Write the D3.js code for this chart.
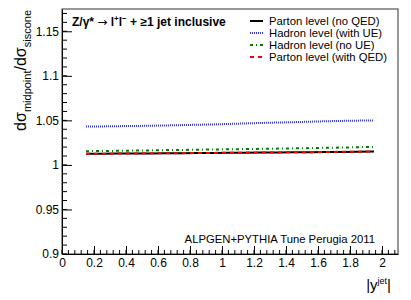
<!DOCTYPE html>
<html>
<head>
<meta charset="utf-8">
<script src="https://cdn.jsdelivr.net/npm/d3@7"></script>
<style>
  body { margin: 0; background: #fff; }
  svg { font-family: "Liberation Sans", Arial, sans-serif; }
</style>
</head>
<body>
<div id="chart"></div>
<script>
// bin centres in |y^jet|
var yjet = [0.15, 0.25, 0.35, 0.45, 0.55, 0.65, 0.75, 0.85, 0.95, 1.05,
            1.15, 1.25, 1.35, 1.45, 1.55, 1.65, 1.75, 1.85, 1.95];

var partonNoQED = [1.0124, 1.0125, 1.0127, 1.0128, 1.0129, 1.0130, 1.0132, 1.0133, 1.0134, 1.0136,
                   1.0137, 1.0138, 1.0140, 1.0141, 1.0143, 1.0144, 1.0146, 1.0148, 1.0150];
var hadronWithUE = [1.0430, 1.0432, 1.0435, 1.0437, 1.0440, 1.0443, 1.0447, 1.0451, 1.0455, 1.0460,
                    1.0466, 1.0471, 1.0476, 1.0480, 1.0485, 1.0490, 1.0494, 1.0497, 1.0500];
var hadronNoUE = [1.0154, 1.0156, 1.0158, 1.0161, 1.0163, 1.0166, 1.0168, 1.0171, 1.0173, 1.0176,
                  1.0178, 1.0181, 1.0183, 1.0186, 1.0189, 1.0192, 1.0195, 1.0199, 1.0202];
var partonWithQED = [1.0125, 1.0126, 1.0127, 1.0129, 1.0130, 1.0131, 1.0132, 1.0134, 1.0135, 1.0136,
                     1.0138, 1.0139, 1.0140, 1.0142, 1.0143, 1.0145, 1.0147, 1.0149, 1.0151];

var xTicks = [0, 0.2, 0.4, 0.6, 0.8, 1, 1.2, 1.4, 1.6, 1.8, 2];
var yTicks = [0.9, 0.95, 1, 1.05, 1.1, 1.15];

var series = [
    {name: "Parton level (no QED)",   values: partonNoQED,   color: "#000000", dash: null},
    {name: "Hadron level (with UE)",  values: hadronWithUE,  color: "#3030ff", dash: "1,1"},
    {name: "Hadron level (no UE)",    values: hadronNoUE,    color: "#008000", dash: "3,3,1,3"},
    {name: "Parton level (with QED)", values: partonWithQED, color: "#ff0000", dash: "4,4"}
];
// draw order: black, green, red on top of black, blue
var drawOrder = [0, 2, 3, 1];

var W = 411, H = 300;
var margin = {top: 9, right: 13, bottom: 46, left: 62};
var width = W - margin.left - margin.right,
    height = H - margin.top - margin.bottom;

var svg = d3.select("#chart").append("svg")
    .attr("width", W)
    .attr("height", H);

var g = svg.append("g")
    .attr("transform", "translate(" + margin.left + "," + margin.top + ")");

var x = d3.scaleLinear().domain([0, 2.1]).range([0, width]);
var y = d3.scaleLinear().domain([0.9, 1.175]).range([height, 0]);

// frame
g.append("rect")
    .attr("width", width).attr("height", height)
    .attr("fill", "none").attr("stroke", "#333").attr("stroke-width", 1);

// minor ticks
var xMinor = d3.range(0, 2.1001, 0.04);
g.append("g").selectAll("line").data(xMinor).enter().append("line")
    .attr("x1", function(d) { return x(d); }).attr("x2", function(d) { return x(d); })
    .attr("y1", height).attr("y2", height - 4)
    .attr("stroke", "#000");
var yMinor = d3.range(0.9, 1.17501, 0.01);
g.append("g").selectAll("line").data(yMinor).enter().append("line")
    .attr("y1", function(d) { return y(d); }).attr("y2", function(d) { return y(d); })
    .attr("x1", 0).attr("x2", 5)
    .attr("stroke", "#000");

// axes (ticks pointing inward)
var xAxis = g.append("g")
    .attr("transform", "translate(0," + height + ")")
    .call(d3.axisBottom(x).tickValues(xTicks).tickSizeInner(-8).tickSizeOuter(0)
        .tickPadding(4).tickFormat(d3.format("~g")));
var yAxis = g.append("g")
    .call(d3.axisLeft(y).tickValues(yTicks).tickSizeInner(-10).tickSizeOuter(0)
        .tickPadding(3).tickFormat(d3.format("~g")));

[xAxis, yAxis].forEach(function(a) {
    a.select(".domain").attr("stroke", "#000");
    a.selectAll(".tick line").attr("stroke", "#000");
    a.selectAll("text").attr("font-size", 12).attr("fill", "#000")
        .attr("font-family", "Liberation Sans, Arial, sans-serif");
});

// curves
var line = d3.line()
    .x(function(d) { return x(d[0]); })
    .y(function(d) { return y(d[1]); });

drawOrder.forEach(function(i) {
    var s = series[i];
    var pts = yjet.map(function(v, k) { return [v, s.values[k]]; });
    g.append("path")
        .datum(pts)
        .attr("d", line)
        .attr("fill", "none")
        .attr("stroke", s.color)
        .attr("stroke-width", 2)
        .attr("stroke-dasharray", s.dash);
});

// legend
var legend = svg.append("g").attr("transform", "translate(250,21)");
series.forEach(function(s, i) {
    var row = legend.append("g").attr("transform", "translate(0," + (i * 12) + ")");
    row.append("line")
        .attr("x1", 0).attr("x2", 13).attr("y1", 0).attr("y2", 0)
        .attr("stroke", s.color).attr("stroke-width", 2)
        .attr("stroke-dasharray", s.dash);
    row.append("text")
        .attr("x", 19).attr("y", 4)
        .attr("font-size", 11.3)
        .text(s.name);
});

// process label
var title = svg.append("text")
    .attr("x", 72).attr("y", 26)
    .attr("font-size", 12).attr("font-weight", "bold");
title.append("tspan").text("Z/\u03b3* ");
title.append("tspan").attr("font-family", "DejaVu Sans").attr("font-weight", "normal")
    .attr("font-size", 12).text("\u2192");
title.append("tspan").text(" l");
title.append("tspan").attr("dy", -5).attr("font-size", 8).text("+");
title.append("tspan").attr("dy", 5).text("l");
title.append("tspan").attr("dy", -5).attr("font-size", 8).text("\u2212");
title.append("tspan").attr("dy", 5).text(" + \u22651 jet inclusive");

// generator label
svg.append("text")
    .attr("x", 375).attr("y", 243)
    .attr("text-anchor", "end")
    .attr("font-size", 11.3)
    .text("ALPGEN+PYTHIA Tune Perugia 2011");

// x title
var xt = svg.append("text")
    .attr("x", 391).attr("y", 290)
    .attr("text-anchor", "end")
    .attr("font-size", 15);
xt.append("tspan").text("|y");
xt.append("tspan").attr("dy", -6).attr("font-size", 9).text("jet");
xt.append("tspan").attr("dy", 6).text("|");

// y title
var yt = svg.append("text")
    .attr("transform", "translate(26,10) rotate(-90)")
    .attr("text-anchor", "end")
    .attr("font-size", 16);
yt.append("tspan").text("d\u03c3");
yt.append("tspan").attr("dy", 5).attr("font-size", 11).text("midpoint");
yt.append("tspan").attr("dy", -5).text("/d\u03c3");
yt.append("tspan").attr("dy", 5).attr("font-size", 11).text("siscone");
</script>
</body>
</html>
